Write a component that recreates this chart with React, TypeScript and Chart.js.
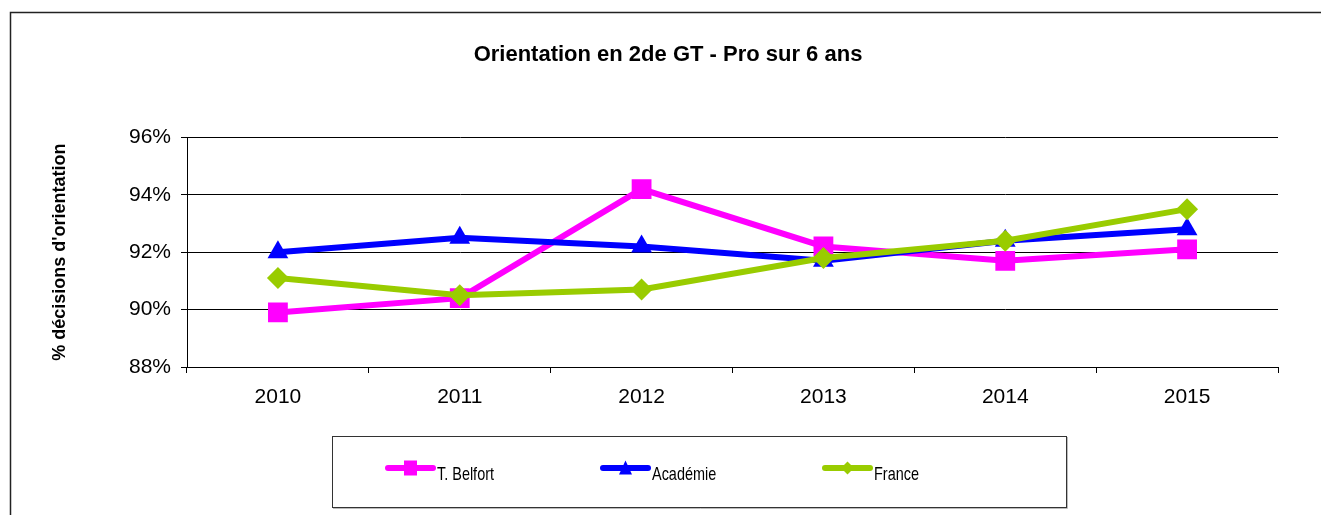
import React, { useEffect, useRef } from 'react';
import { Chart, registerables } from 'chart.js';

Chart.register(...registerables);

const years = ['2010', '2011', '2012', '2013', '2014', '2015'];
const belfort = [89.9, 90.4, 94.2, 92.2, 91.7, 92.1];
const academie = [92.0, 92.5, 92.2, 91.7, 92.4, 92.8];
const france = [91.1, 90.5, 90.7, 91.8, 92.4, 93.5];
const yTicks = [88, 90, 92, 94, 96];
const seriesNames = ['T. Belfort', 'Académie', 'France'];
const seriesColors = ['#FF00FF', '#0000FF', '#99CC00'];
const chartTitle = 'Orientation en 2de GT - Pro sur 6 ans';
const yTitle = "% décisions d'orientation";

const FONT = 'Arial, "Liberation Sans", sans-serif';

function drawMarker(ctx: CanvasRenderingContext2D, style: string, x: number, y: number, s: number) {
  ctx.beginPath();
  if (style === 'rect') {
    ctx.rect(x - s / 2, y - s / 2 - 1, s, s + 2);
  } else if (style === 'triangle') {
    ctx.moveTo(x, y - s / 2 - 1);
    ctx.lineTo(x + s / 2, y + s / 2);
    ctx.lineTo(x - s / 2, y + s / 2);
    ctx.closePath();
  } else {
    ctx.moveTo(x, y - s / 2);
    ctx.lineTo(x + s / 2, y);
    ctx.lineTo(x, y + s / 2);
    ctx.lineTo(x - s / 2, y);
    ctx.closePath();
  }
  ctx.fill();
}

const framePlugin = {
  id: 'frame',
  beforeDraw(chart: any) {
    const ctx = chart.ctx as CanvasRenderingContext2D;
    ctx.save();
    ctx.fillStyle = '#ffffff';
    ctx.fillRect(0, 0, chart.width, chart.height);
    ctx.strokeStyle = '#222222';
    ctx.lineWidth = 1.5;
    ctx.strokeRect(10.5, 12.5, chart.width + 20, chart.height + 20);
    ctx.restore();
  },
};

const legendPlugin = {
  id: 'boxLegend',
  afterDraw(chart: any) {
    const ctx = chart.ctx as CanvasRenderingContext2D;
    ctx.save();
    ctx.strokeStyle = '#bbbbbb';
    ctx.lineWidth = 1;
    ctx.beginPath();
    ctx.moveTo(333, 508.5);
    ctx.lineTo(1067.5, 508.5);
    ctx.lineTo(1067.5, 437);
    ctx.stroke();
    ctx.strokeStyle = '#333333';
    ctx.strokeRect(332.5, 436.5, 734, 71);
    const starts = [385, 600, 822];
    const y = 468;
    chart.data.datasets.forEach((ds: any, i: number) => {
      const x0 = starts[i];
      ctx.strokeStyle = ds.borderColor;
      ctx.lineWidth = 6;
      ctx.lineCap = 'round';
      ctx.beginPath();
      ctx.moveTo(x0 + 3, y);
      ctx.lineTo(x0 + 48, y);
      ctx.stroke();
      ctx.fillStyle = ds.borderColor;
      drawMarker(ctx, ds.pointStyle, x0 + 25.5, y, 13);
      ctx.save();
      ctx.translate(x0 + 52, 480);
      ctx.scale(0.76, 1);
      ctx.fillStyle = '#000000';
      ctx.font = `19px ${FONT}`;
      ctx.textBaseline = 'alphabetic';
      ctx.textAlign = 'left';
      ctx.fillText(ds.label, 0, 0);
      ctx.restore();
    });
    ctx.restore();
  },
};

export default function App() {
  const ref = useRef<HTMLCanvasElement | null>(null);

  useEffect(() => {
    document.body.style.margin = '0';
    const canvas = ref.current;
    if (!canvas) return;
    const values = [belfort, academie, france];
    const styles = ['rect', 'triangle', 'rectRot'];
    const radii = [14, 12, 11];
    const chart = new Chart(canvas, {
      type: 'line',
      data: {
        labels: years,
        datasets: values.map((v, i) => ({
          label: seriesNames[i],
          data: v,
          borderColor: seriesColors[i],
          backgroundColor: seriesColors[i],
          pointBackgroundColor: seriesColors[i],
          pointBorderColor: seriesColors[i],
          pointBorderWidth: 0,
          borderWidth: 6,
          pointStyle: styles[i],
          pointRadius: radii[i],
          pointHoverRadius: radii[i],
          tension: 0,
          order: 3 - i,
        })),
      },
      options: {
        responsive: false,
        animation: false,
        devicePixelRatio: 1,
        layout: { padding: { left: 58, right: 43, top: 0, bottom: 0 } },
        plugins: {
          legend: { display: false },
          tooltip: { enabled: false },
          title: {
            display: true,
            text: chartTitle,
            color: '#000000',
            font: { family: FONT, size: 22, weight: 'bold' },
            padding: { top: 42, bottom: 69 },
          },
        },
        scales: {
          x: {
            type: 'category',
            offset: true,
            grid: {
              offset: true,
              drawOnChartArea: false,
              drawTicks: true,
              tickLength: 6,
              color: '#000000',
            },
            border: { display: true, color: '#000000', width: 1 },
            ticks: {
              color: '#000000',
              font: { family: FONT, size: 21 },
              padding: 12,
              maxRotation: 0,
            },
            afterFit: (s: any) => {
              s.height = 148;
            },
          },
          y: {
            min: 88,
            max: 96,
            afterBuildTicks: (s: any) => {
              s.ticks = yTicks.map((v) => ({ value: v }));
            },
            grid: {
              color: '#000000',
              lineWidth: 1,
              drawTicks: true,
              tickLength: 6,
            },
            border: { display: true, color: '#000000', width: 1 },
            ticks: {
              color: '#000000',
              font: { family: FONT, size: 21 },
              padding: 10,
              callback: (v: any) => `${v}%`,
            },
            title: {
              display: true,
              text: yTitle,
              color: '#000000',
              font: { family: FONT, size: 18, weight: 'bold' },
              padding: { top: -9, bottom: 0 },
            },
            afterFit: (s: any) => {
              s.width = 129;
            },
          },
        },
      },
      plugins: [framePlugin, legendPlugin],
    });
    return () => chart.destroy();
  }, []);

  return (
    <div style={{ width: 1321, height: 515 }}>
      <canvas ref={ref} width={1321} height={515} style={{ display: 'block' }} />
    </div>
  );
}
